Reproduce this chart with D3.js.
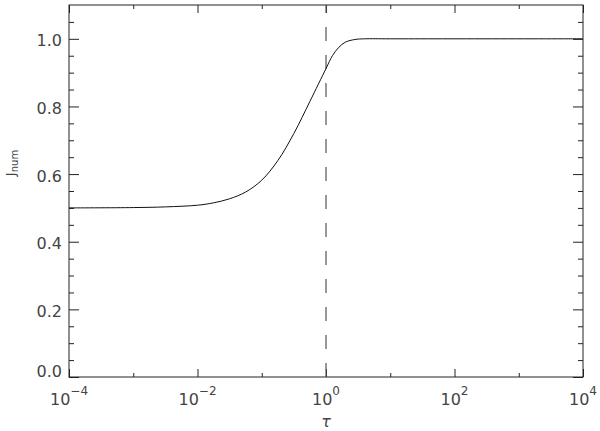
<!DOCTYPE html>
<html>
<head>
<meta charset="utf-8">
<script src="https://cdn.jsdelivr.net/npm/d3@7"></script>
<style>
  html, body { margin: 0; padding: 0; background: #fff; }
  svg { display: block; }
</style>
</head>
<body>
<svg id="chart" width="600" height="431"></svg>
<script>
// ---- data ----
const tau = [1e-4, 1e-3, 3.16e-3, 1e-2, 1.78e-2, 3.16e-2, 5.62e-2, 0.1, 0.178, 0.316, 0.562, 1.0, 1.259, 1.585, 1.995, 2.818, 3.98, 10, 1e4];
const jNum = [0.500, 0.501, 0.503, 0.508, 0.515, 0.527, 0.547, 0.582, 0.640, 0.720, 0.815, 0.912, 0.950, 0.975, 0.990, 0.998, 1.000, 1.000, 1.000];
const markTau = [1];

const xMajor = [1e-4, 1e-2, 1, 1e2, 1e4];
const xMajorExp = ["\u22124", "\u22122", "0", "2", "4"];
const xMinor = [1e-3, 1e-1, 1e1, 1e3];
const yMajor = [0.0, 0.2, 0.4, 0.6, 0.8, 1.0];
const yMajorLabels = ["0.0", "0.2", "0.4", "0.6", "0.8", "1.0"];
const yMinor = [0.05, 0.10, 0.15, 0.25, 0.30, 0.35, 0.45, 0.50, 0.55, 0.65, 0.70, 0.75, 0.85, 0.90, 0.95, 1.05];

// ---- layout ----
const L = 69, T = 5, R = 583, B = 377;
const svg = d3.select("#chart");
const x = d3.scaleLog().domain([1e-4, 1e4]).range([L, R]);
const y = d3.scaleLinear().domain([0, 1.1]).range([B, T]);

const font = "'DejaVu Sans', 'Liberation Sans', sans-serif";
const labelColor = "#444";

function styleAxis(g) {
  g.select(".domain").remove();
  g.selectAll(".tick text").remove();
  g.selectAll(".tick line").attr("stroke", "#222").attr("stroke-width", 1);
}

// bottom axis ticks (inward)
svg.append("g").attr("transform", `translate(0,${B})`)
  .call(d3.axisTop(x).tickValues(xMajor).tickSize(8).tickFormat(() => "")).call(styleAxis);
svg.append("g").attr("transform", `translate(0,${B})`)
  .call(d3.axisTop(x).tickValues(xMinor).tickSize(4).tickFormat(() => "")).call(styleAxis);
// top axis ticks (inward)
svg.append("g").attr("transform", `translate(0,${T})`)
  .call(d3.axisBottom(x).tickValues(xMajor).tickSize(8).tickFormat(() => "")).call(styleAxis);
svg.append("g").attr("transform", `translate(0,${T})`)
  .call(d3.axisBottom(x).tickValues(xMinor).tickSize(4).tickFormat(() => "")).call(styleAxis);
// left axis ticks (inward)
svg.append("g").attr("transform", `translate(${L},0)`)
  .call(d3.axisRight(y).tickValues(yMajor).tickSize(10).tickFormat(() => "")).call(styleAxis);
svg.append("g").attr("transform", `translate(${L},0)`)
  .call(d3.axisRight(y).tickValues(yMinor).tickSize(5).tickFormat(() => "")).call(styleAxis);
// right axis ticks (inward)
svg.append("g").attr("transform", `translate(${R},0)`)
  .call(d3.axisLeft(y).tickValues(yMajor).tickSize(10).tickFormat(() => "")).call(styleAxis);
svg.append("g").attr("transform", `translate(${R},0)`)
  .call(d3.axisLeft(y).tickValues(yMinor).tickSize(5).tickFormat(() => "")).call(styleAxis);

// frame
svg.append("rect")
  .attr("x", L).attr("y", T).attr("width", R - L).attr("height", B - T)
  .attr("fill", "none").attr("stroke", "#222").attr("stroke-width", 1);

// dashed vertical line at tau = 1
svg.selectAll(".vmark").data(markTau).enter().append("line")
  .attr("x1", d => x(d)).attr("x2", d => x(d))
  .attr("y1", B).attr("y2", T)
  .attr("stroke", "#555").attr("stroke-width", 1.2)
  .attr("stroke-dasharray", "14,14");

// curve
const pts = tau.map((t, i) => [t, jNum[i]]);
svg.append("path")
  .datum(pts)
  .attr("fill", "none").attr("stroke", "#111").attr("stroke-width", 1)
  .attr("d", d3.line().x(d => x(d[0])).y(d => y(d[1])).curve(d3.curveCatmullRom.alpha(0.5)));

// y tick labels
svg.selectAll(".ylab").data(yMajor).enter().append("text")
  .attr("x", L - 7)
  .attr("y", (d, i) => i === 0 ? y(d) - 0.5 : y(d) + 7.5)
  .attr("text-anchor", "end")
  .attr("font-family", font).attr("font-size", 16).attr("fill", labelColor)
  .text((d, i) => yMajorLabels[i]);

// x tick labels
const xl = svg.selectAll(".xlab").data(xMajor).enter().append("text")
  .attr("x", d => x(d)).attr("y", 405)
  .attr("text-anchor", "middle")
  .attr("font-family", font).attr("font-size", 16).attr("fill", labelColor);
xl.append("tspan").text("10");
xl.append("tspan").attr("font-size", 12).attr("dy", -10.5).text((d, i) => xMajorExp[i]);

// x axis title
svg.append("text")
  .attr("x", x(1)).attr("y", 427)
  .attr("text-anchor", "middle")
  .attr("font-family", font).attr("font-size", 16).attr("font-style", "italic")
  .attr("fill", labelColor).text("\u03C4");

// y axis title
const yt = svg.append("text")
  .attr("transform", "translate(15,163) rotate(-90)")
  .attr("text-anchor", "middle")
  .attr("font-family", font).attr("font-size", 13).attr("fill", labelColor);
yt.append("tspan").text("J");
yt.append("tspan").attr("font-size", 10).attr("dy", 3).text("num");
</script>
</body>
</html>
